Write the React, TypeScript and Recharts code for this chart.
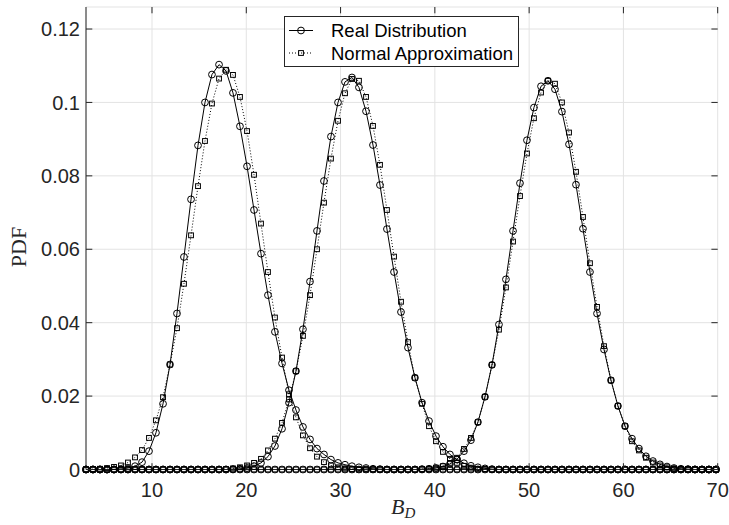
import { LineChart, Line, XAxis, YAxis, CartesianGrid } from "recharts"

// sample positions of B_D (uniform grid)
const xs = [
  3.0, 3.74, 4.48, 5.23, 5.97, 6.71, 7.45, 8.2, 8.94, 9.68,
  10.42, 11.17, 11.91, 12.65, 13.39, 14.14, 14.88, 15.62, 16.36, 17.11,
  17.85, 18.59, 19.33, 20.08, 20.82, 21.56, 22.3, 23.04, 23.79, 24.53,
  25.27, 26.01, 26.76, 27.5, 28.24, 28.98, 29.73, 30.47, 31.21, 31.95,
  32.7, 33.44, 34.18, 34.92, 35.67, 36.41, 37.15, 37.89, 38.64, 39.38,
  40.12, 40.86, 41.6, 42.35, 43.09, 43.83, 44.57, 45.32, 46.06, 46.8,
  47.54, 48.29, 49.03, 49.77, 50.51, 51.26, 52.0, 52.74, 53.48, 54.23,
  54.97, 55.71, 56.45, 57.2, 57.94, 58.68, 59.42, 60.17, 60.91, 61.65,
  62.39, 63.13, 63.88, 64.62, 65.36, 66.1, 66.85, 67.59, 68.33, 69.07,
  69.82,
]

// real distributions
const real1 = [
  0, 0, 0, 0, 0, 0.0001, 0.0004, 0.0009, 0.002, 0.005,
  0.01, 0.0179, 0.0286, 0.0425, 0.0579, 0.0736, 0.0883, 0.1, 0.1076, 0.1103,
  0.1086, 0.1026, 0.0935, 0.0826, 0.0707, 0.0588, 0.0475, 0.0375, 0.0289, 0.0216,
  0.0162, 0.0116, 0.0082, 0.0057, 0.0041, 0.0027, 0.0018, 0.0013, 0.0009, 0.0006,
  0.0004, 0.0002, 0.0001, 0, 0, 0, 0, 0, 0, 0,
  0, 0, 0, 0, 0, 0, 0, 0, 0, 0,
  0, 0, 0, 0, 0, 0, 0, 0, 0, 0,
  0, 0, 0, 0, 0, 0, 0, 0, 0, 0,
  0, 0, 0, 0, 0, 0, 0, 0, 0, 0,
  0,
]
const real2 = [
  0, 0, 0, 0, 0, 0, 0, 0, 0, 0,
  0, 0, 0, 0, 0, 0, 0, 0, 0, 0,
  0, 0.0001, 0.0002, 0.0004, 0.0009, 0.0018, 0.0035, 0.0064, 0.0111, 0.0182,
  0.0268, 0.0382, 0.0512, 0.065, 0.0786, 0.0907, 0.1, 0.1056, 0.1068, 0.1041,
  0.0976, 0.0884, 0.0775, 0.0655, 0.0538, 0.0429, 0.0332, 0.025, 0.0182, 0.0132,
  0.0091, 0.0062, 0.0041, 0.0027, 0.0017, 0.001, 0.0006, 0.0003, 0.0001, 0,
  0, 0, 0, 0, 0, 0, 0, 0, 0, 0,
  0, 0, 0, 0, 0, 0, 0, 0, 0, 0,
  0, 0, 0, 0, 0, 0, 0, 0, 0, 0,
  0,
]
const real3 = [
  0, 0, 0, 0, 0, 0, 0, 0, 0, 0,
  0, 0, 0, 0, 0, 0, 0, 0, 0, 0,
  0, 0, 0, 0, 0, 0, 0, 0, 0, 0,
  0, 0, 0, 0, 0, 0, 0, 0, 0, 0,
  0, 0, 0, 0, 0, 0, 0, 0, 0.0001, 0.0002,
  0.0004, 0.0008, 0.0015, 0.0028, 0.005, 0.008, 0.0129, 0.0198, 0.0285, 0.0395,
  0.0518, 0.065, 0.078, 0.0897, 0.0986, 0.1044, 0.1059, 0.1036, 0.0975, 0.0886,
  0.0776, 0.0656, 0.0538, 0.0425, 0.0327, 0.0243, 0.0173, 0.0118, 0.0084, 0.0057,
  0.0036, 0.0023, 0.0014, 0.0008, 0.0004, 0.0002, 0.0001, 0, 0, 0,
  0,
]

// normal approximations
const norm1 = [
  0, 0.0001, 0.0002, 0.0004, 0.0007, 0.0011, 0.0019, 0.0033, 0.0053, 0.0086,
  0.0134, 0.0197, 0.0286, 0.0385, 0.0506, 0.0638, 0.0772, 0.0895, 0.0997, 0.1065,
  0.1089, 0.1075, 0.1015, 0.0922, 0.0803, 0.067, 0.0538, 0.0414, 0.0305, 0.0205,
  0.0142, 0.0093, 0.0058, 0.0035, 0.002, 0.0011, 0.0006, 0.0003, 0.0001, 0,
  0, 0, 0, 0, 0, 0, 0, 0, 0, 0,
  0, 0, 0, 0, 0, 0, 0, 0, 0, 0,
  0, 0, 0, 0, 0, 0, 0, 0, 0, 0,
  0, 0, 0, 0, 0, 0, 0, 0, 0, 0,
  0, 0, 0, 0, 0, 0, 0, 0, 0, 0,
  0,
]
const norm2 = [
  0, 0, 0, 0, 0, 0, 0, 0, 0, 0,
  0, 0, 0, 0, 0, 0, 0, 0, 0, 0,
  0.0001, 0.0003, 0.0006, 0.0011, 0.0018, 0.0029, 0.0052, 0.0084, 0.0127, 0.0191,
  0.0268, 0.0364, 0.0475, 0.06, 0.0727, 0.0847, 0.095, 0.1025, 0.1064, 0.1059,
  0.1015, 0.0936, 0.083, 0.0707, 0.058, 0.0457, 0.0347, 0.025, 0.0179, 0.0118,
  0.0077, 0.0048, 0.0029, 0.0018, 0.001, 0.0005, 0.0002, 0.0001, 0, 0,
  0, 0, 0, 0, 0, 0, 0, 0, 0, 0,
  0, 0, 0, 0, 0, 0, 0, 0, 0, 0,
  0, 0, 0, 0, 0, 0, 0, 0, 0, 0,
  0,
]
const norm3 = [
  0, 0, 0, 0, 0, 0, 0, 0, 0, 0,
  0, 0, 0, 0, 0, 0, 0, 0, 0, 0,
  0, 0, 0, 0, 0, 0, 0, 0, 0, 0,
  0, 0, 0, 0, 0, 0, 0, 0, 0, 0,
  0, 0, 0, 0, 0, 0, 0, 0, 0.0001, 0.0002,
  0.0005, 0.0009, 0.0018, 0.0032, 0.0056, 0.0086, 0.0129, 0.0198, 0.0285, 0.0381,
  0.0496, 0.0621, 0.0745, 0.0861, 0.0957, 0.1027, 0.1059, 0.1051, 0.1, 0.0918,
  0.0811, 0.0688, 0.0562, 0.0443, 0.0336, 0.0243, 0.0173, 0.0118, 0.0077, 0.0052,
  0.0032, 0.0019, 0.0011, 0.0006, 0.0003, 0.0001, 0, 0, 0, 0,
  0,
]

const xTicks = [10, 20, 30, 40, 50, 60, 70]
const yTicks = [0, 0.02, 0.04, 0.06, 0.08, 0.1, 0.12]

const data = xs.map((x, i) => ({
  x,
  r1: real1[i],
  r2: real2[i],
  r3: real3[i],
  n1: norm1[i],
  n2: norm2[i],
  n3: norm3[i],
}))

// plot box, in page pixels
const W = 729
const H = 525
const PL = 86
const PR = 717.7
const PT = 7
const PB = 469.5
const AX = "#262626"
const SANS = "'Liberation Sans', Arial, Helvetica, sans-serif"
const SERIF = "'Liberation Serif', 'Times New Roman', serif"
const TICK = 6.3

const CircleDot = (p: any) => {
  if (p.cx == null || p.cy == null) return <g key={`c-${p.index}`} />
  return (
    <circle key={`c-${p.index}`} cx={p.cx} cy={p.cy} r={3.4} fill="none" stroke="#000" strokeWidth={1} />
  )
}

const SquareDot = (p: any) => {
  if (p.cx == null || p.cy == null) return <g key={`s-${p.index}`} />
  return (
    <rect key={`s-${p.index}`} x={p.cx - 2.4} y={p.cy - 2.4} width={4.8} height={4.8} fill="none" stroke="#000" strokeWidth={1} />
  )
}

// MATLAB-like ticks: inward on both sides of the box
const XTick = ({ x, payload }: any) => (
  <g>
    <line x1={x} x2={x} y1={PB} y2={PB - TICK} stroke={AX} />
    <line x1={x} x2={x} y1={PT} y2={PT + TICK} stroke={AX} />
    <text x={x} y={PB + 13.5} dy="0.71em" textAnchor="middle" fill={AX} fontFamily={SANS} fontSize={20}>
      {payload.value}
    </text>
  </g>
)

const YTick = ({ y, payload }: any) => (
  <g>
    <line x1={PL} x2={PL + TICK} y1={y} y2={y} stroke={AX} />
    <line x1={PR} x2={PR - TICK} y1={y} y2={y} stroke={AX} />
    <text x={PL - 6} y={y} dy="0.36em" textAnchor="end" fill={AX} fontFamily={SANS} fontSize={20}>
      {payload.value}
    </text>
  </g>
)

const series = [
  { key: "r1", real: true },
  { key: "n1", real: false },
  { key: "r2", real: true },
  { key: "n2", real: false },
  { key: "r3", real: true },
  { key: "n3", real: false },
]

export default function App() {
  return (
    <div style={{ position: "absolute", left: 0, top: 0, width: W, height: H, background: "#fff" }}>
      <LineChart
        width={W}
        height={H}
        data={data}
        margin={{ top: PT, right: W - PR, bottom: 25.5, left: 8 }}
      >
        <CartesianGrid stroke="#e3e3e3" strokeWidth={1} />
        <XAxis
          dataKey="x"
          type="number"
          domain={[3, 70]}
          ticks={xTicks}
          height={30}
          stroke={AX}
          tickLine={false}
          tick={<XTick />}
        />
        <XAxis xAxisId="top" orientation="top" type="number" domain={[3, 70]} height={0} stroke={AX} tick={false} tickLine={false} />
        <YAxis
          type="number"
          domain={[0, 0.126]}
          ticks={yTicks}
          width={78}
          stroke={AX}
          tickLine={false}
          tick={<YTick />}
        />
        <YAxis yAxisId="right" orientation="right" type="number" domain={[0, 0.126]} width={0} stroke={AX} tick={false} tickLine={false} />
        {series.map((s) => (
          <Line
            key={s.key}
            dataKey={s.key}
            type="linear"
            stroke="#000"
            strokeWidth={1}
            strokeDasharray={s.real ? undefined : "1 2"}
            dot={s.real ? CircleDot : SquareDot}
            activeDot={false}
            isAnimationActive={false}
          />
        ))}
      </LineChart>

      <svg width={W} height={H} style={{ position: "absolute", left: 0, top: 0, pointerEvents: "none" }}>
        {/* legend */}
        <rect x={284.5} y={16.5} width={234} height={50} fill="#fff" stroke={AX} strokeWidth={1} />
        <line x1={289} x2={313} y1={30.5} y2={30.5} stroke="#000" />
        <circle cx={301} cy={30.5} r={3.4} fill="none" stroke="#000" strokeWidth={1} />
        <text x={331} y={30.5} dy="0.36em" fontFamily={SANS} fontSize={18.5} fill="#000">
          Real Distribution
        </text>
        <line x1={289} x2={313} y1={53} y2={53} stroke="#000" strokeDasharray="1 2" />
        <rect x={298.6} y={50.6} width={4.8} height={4.8} fill="none" stroke="#000" strokeWidth={1} />
        <text x={331} y={53} dy="0.36em" fontFamily={SANS} fontSize={18.5} fill="#000">
          Normal Approximation
        </text>

        {/* axis titles */}
        <text
          x={0}
          y={0}
          transform="translate(26 247) rotate(-90)"
          textAnchor="middle"
          fontFamily={SERIF}
          fontSize={22}
          fill={AX}
        >
          PDF
        </text>
        <text x={391} y={514} fontFamily={SERIF} fontStyle="italic" fontSize={22} fill={AX}>
          B
          <tspan dy={4} fontSize={15}>
            D
          </tspan>
        </text>
      </svg>
    </div>
  )
}
